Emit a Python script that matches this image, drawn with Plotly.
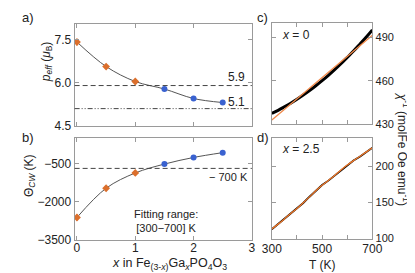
import plotly.graph_objects as go

# ---- data ----
x_comp = [0.0, 0.5, 1.0, 1.5, 2.0, 2.5]
p_eff = [7.41, 6.56, 6.04, 5.78, 5.45, 5.31]
p_err = [0.12, 0.08, 0.08, 0.0, 0.0, 0.0]
theta_cw = [-2630, -1480, -880, -530, -270, -80]
theta_err = [130, 110, 100, 0, 0, 0]
p_ref_a = 5.9
p_ref_b = 5.1
theta_ref = -700

T_c = [300, 325, 350, 375, 400, 425, 450, 475, 500, 525, 550, 575, 600, 625, 650, 675, 700]
chi_c = [437.5, 439.6, 442.0, 444.5, 447.2, 450.1, 453.2, 456.5, 460.0, 463.7, 467.6, 471.7, 476.0, 480.4, 485.1, 489.9, 495.0]
T_cfit = [300, 700]
chi_cfit = [433.0, 491.3]

T_d = [300, 325, 350, 375, 400, 425, 450, 475, 500, 525, 550, 575, 600, 625, 650, 675, 700]
chi_d = [113.0, 120.2, 127.0, 134.5, 141.3, 149.2, 157.8, 166.5, 174.0, 180.0, 187.0, 195.0, 202.0, 207.8, 213.0, 219.0, 225.5]
chi_dfit = [113.4, 120.0, 127.2, 134.6, 141.6, 149.5, 157.6, 166.0, 173.5, 180.3, 187.2, 194.8, 201.6, 207.6, 213.4, 219.4, 225.3]

ORANGE = "#DB6F2C"
BLUE = "#3A62D0"
FRAME = "#9a9a9a"
TXT = "#222222"
FONT = "Liberation Sans, Arial, sans-serif"

W, H = 415, 273
def dx(a, b):
    return [a / W, b / W]
def dy(top, bot):
    return [1 - bot / H, 1 - top / H]

fig = go.Figure()

err_idx = [i for i, v in enumerate(p_err) if v > 0]
blue_idx = [i for i, v in enumerate(p_err) if v == 0]

# panel a
fig.add_trace(go.Scatter(x=x_comp, y=p_eff, mode="lines", line=dict(color="#555", width=1, shape="spline"),
                         xaxis="x", yaxis="y", showlegend=False, hoverinfo="skip"))
fig.add_trace(go.Scatter(x=[x_comp[i] for i in err_idx], y=[p_eff[i] for i in err_idx], mode="markers",
                         marker=dict(symbol="diamond", size=6, color=ORANGE),
                         error_y=dict(type="data", array=[p_err[i] for i in err_idx], color=ORANGE, width=0, thickness=1),
                         xaxis="x", yaxis="y", showlegend=False))
fig.add_trace(go.Scatter(x=[x_comp[i] for i in blue_idx], y=[p_eff[i] for i in blue_idx], mode="markers",
                         marker=dict(symbol="circle", size=6, color=BLUE),
                         xaxis="x", yaxis="y", showlegend=False))
# panel b
fig.add_trace(go.Scatter(x=x_comp, y=theta_cw, mode="lines", line=dict(color="#555", width=1, shape="spline"),
                         xaxis="x2", yaxis="y2", showlegend=False, hoverinfo="skip"))
fig.add_trace(go.Scatter(x=[x_comp[i] for i in err_idx], y=[theta_cw[i] for i in err_idx], mode="markers",
                         marker=dict(symbol="diamond", size=6, color=ORANGE),
                         error_y=dict(type="data", array=[theta_err[i] for i in err_idx], color=ORANGE, width=0, thickness=1),
                         xaxis="x2", yaxis="y2", showlegend=False))
fig.add_trace(go.Scatter(x=[x_comp[i] for i in blue_idx], y=[theta_cw[i] for i in blue_idx], mode="markers",
                         marker=dict(symbol="circle", size=6, color=BLUE),
                         xaxis="x2", yaxis="y2", showlegend=False))
# panel c
fig.add_trace(go.Scatter(x=T_c, y=chi_c, mode="lines", line=dict(color="black", width=3, shape="spline"),
                         xaxis="x3", yaxis="y3", showlegend=False))
fig.add_trace(go.Scatter(x=T_cfit, y=chi_cfit, mode="lines", line=dict(color="#F0894A", width=1.3),
                         xaxis="x3", yaxis="y3", showlegend=False))
# panel d
fig.add_trace(go.Scatter(x=T_d, y=chi_d, mode="lines", line=dict(color="black", width=1.8),
                         xaxis="x4", yaxis="y4", showlegend=False))
fig.add_trace(go.Scatter(x=T_d, y=chi_dfit, mode="lines", line=dict(color="#F0792A", width=1.3, shape="spline"),
                         xaxis="x4", yaxis="y4", showlegend=False))

axcommon = dict(showline=True, linecolor=FRAME, linewidth=1, mirror="ticks", ticks="inside",
                ticklen=4, tickcolor=FRAME, showgrid=False, zeroline=False,
                tickfont=dict(family=FONT, size=12, color=TXT))
rfont = dict(family=FONT, size=11, color=TXT)

xa = dict(axcommon, domain=dx(59.5, 245.7), range=[-0.04, 3], tickvals=[0, 1, 2, 3])
fig.update_layout(
    xaxis=dict(xa, anchor="y", showticklabels=False),
    yaxis=dict(axcommon, domain=dy(16, 121), range=[4.5, 8.05], tickvals=[4.5, 6.0, 7.5],
               ticktext=["4.5", "6.0", "7.5"], anchor="x"),
    xaxis2=dict(xa, anchor="y2", ticktext=["0", "1", "2", "3"], ticklabelstandoff=-3),
    yaxis2=dict(axcommon, domain=dy(133.3, 237.7), range=[-3500, 500], tickvals=[-3500, -2000, -500],
                ticktext=["\u22123500", "\u22122000", "\u2212500"], anchor="x2"),
    xaxis3=dict(axcommon, domain=dx(266.7, 372.3), range=[300, 700], tickvals=[300, 400, 500, 600, 700],
                showticklabels=False, anchor="y3"),
    yaxis3=dict(axcommon, domain=dy(15, 119.3), range=[430, 500], tickvals=[430, 460, 490],
                side="right", anchor="x3", tickfont=rfont),
    xaxis4=dict(axcommon, domain=dx(266.7, 372.3), range=[300, 700], tickvals=[300, 400, 500, 600, 700],
                ticktext=["300", "", "500", "", "700"], anchor="y4", ticklabelstandoff=-1),
    yaxis4=dict(axcommon, domain=dy(133.3, 236.7), range=[100, 239], tickvals=[100, 150, 200],
                side="right", anchor="x4", tickfont=rfont),
    width=W, height=H, margin=dict(l=0, r=0, t=0, b=0),
    paper_bgcolor="white", plot_bgcolor="white",
    font=dict(family=FONT, size=12, color=TXT),
)

# reference lines
fig.add_shape(type="line", xref="x domain", yref="y", x0=0, x1=1, y0=p_ref_a, y1=p_ref_a,
              line=dict(color="#444", width=1, dash="5px,3px"))
fig.add_shape(type="line", xref="x domain", yref="y", x0=0, x1=1, y0=p_ref_b, y1=p_ref_b,
              line=dict(color="#444", width=1, dash="5px,2px,1px,2px,1px,2px"))
fig.add_shape(type="line", xref="x2 domain", yref="y2", x0=0, x1=1, y0=theta_ref, y1=theta_ref,
              line=dict(color="#444", width=1, dash="5px,3px"))

def ann(x, y, text, size=12, angle=0, xanchor="center", yanchor="middle"):
    fig.add_annotation(x=x / W, y=1 - y / H, xref="paper", yref="paper", text=text, showarrow=False,
                       textangle=angle, xanchor=xanchor, yanchor=yanchor,
                       font=dict(family=FONT, size=size, color=TXT))

ann(2, 10, "a)", 13, xanchor="left")
ann(2, 133, "b)", 13, xanchor="left")
ann(249, 10, "c)", 13, xanchor="left")
ann(249, 133, "d)", 13, xanchor="left")

ann(241, 71, "5.9", 12, xanchor="right")
ann(241, 96, "5.1", 12, xanchor="right")
ann(244, 173, "\u2212 700 K", 11, xanchor="right")
ann(155, 218.5, "Fitting range:<br>[300\u2212700] K", 11)

ann(30, 55, "<i>p<sub>eff</sub></i> (<i>\u03bc</i><sub>B</sub>)", 12, angle=-90)
ann(12, 172, "\u0398<sub><i>CW</i></sub> (K)", 12, angle=-90)
ann(159, 263, "<i>x</i> in Fe<sub>(3-<i>x</i>)</sub>Ga<sub><i>x</i></sub>PO<sub>4</sub>O<sub>3</sub>", 12.5)
ann(319.5, 264, "T (K)", 12)
ann(404, 145, "<i>\u03c7</i><sup>-1</sup> (molFe Oe emu<sup>-1</sup>)", 12, angle=90)

ann(275, 28, "<i>x</i> = 0", 12, xanchor="left")
ann(275, 145, "<i>x</i> = 2.5", 12, xanchor="left")

fig.write_html("out.html")
